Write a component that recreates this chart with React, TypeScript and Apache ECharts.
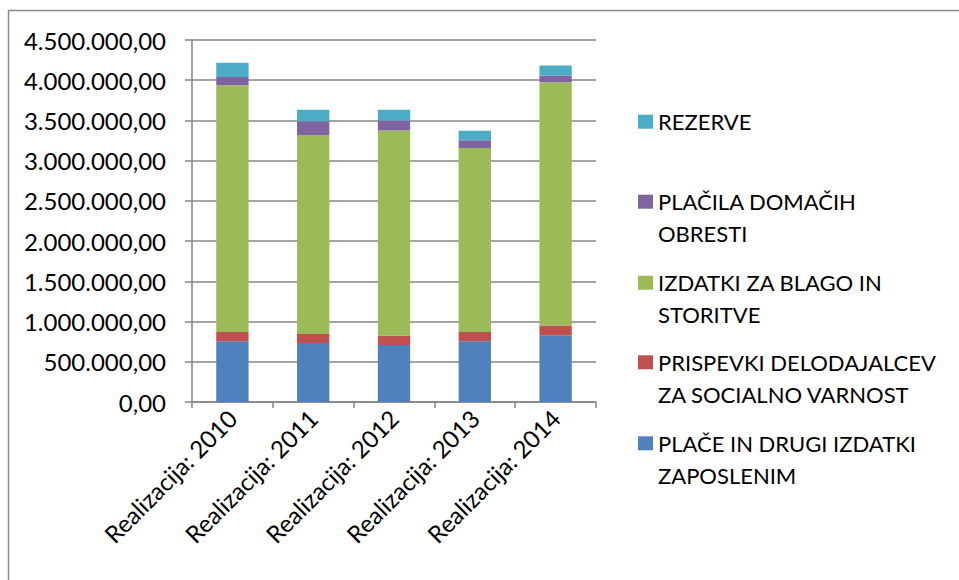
import React, { useEffect, useRef } from "react";
import * as echarts from "echarts";

const categories = ["Realizacija: 2010", "Realizacija: 2011", "Realizacija: 2012", "Realizacija: 2013", "Realizacija: 2014"];
const place = [754000, 733000, 708000, 754000, 829000];
const prispevki = [116000, 112000, 117000, 116000, 121000];
const izdatki = [3068000, 2471000, 2550000, 2289000, 3025000];
const obresti = [103000, 175000, 125000, 95000, 84000];
const rezerve = [175000, 143000, 134000, 117000, 125000];
const yTicks = { min: 0, max: 4500000, interval: 500000 };

const seriesDefs = [
  { name: "PLAČE IN DRUGI IZDATKI ZAPOSLENIM", lines: ["PLAČE IN DRUGI IZDATKI", "ZAPOSLENIM"], data: place, color: "#4F81BD" },
  { name: "PRISPEVKI DELODAJALCEV ZA SOCIALNO VARNOST", lines: ["PRISPEVKI DELODAJALCEV", "ZA SOCIALNO VARNOST"], data: prispevki, color: "#C0504D" },
  { name: "IZDATKI ZA BLAGO IN STORITVE", lines: ["IZDATKI ZA BLAGO IN", "STORITVE"], data: izdatki, color: "#9BBB59" },
  { name: "PLAČILA DOMAČIH OBRESTI", lines: ["PLAČILA DOMAČIH", "OBRESTI"], data: obresti, color: "#8064A2" },
  { name: "REZERVE", lines: ["REZERVE"], data: rezerve, color: "#4BACC6" },
];

const FONT = "Lato";
const FS = 22;
const AXFS = 24;

function fmt(v: number): string {
  const s = Math.round(v).toString().replace(/\B(?=(\d{3})+(?!\d))/g, ".");
  return s + ",00";
}

export default function App() {
  const ref = useRef<HTMLDivElement>(null);
  useEffect(() => {
    if (!ref.current) return;
    const chart = echarts.init(ref.current, null, { renderer: "svg" });
    const iconCenters: Record<string, number> = {
      "REZERVE": 121.7,
      "PLAČILA DOMAČIH OBRESTI": 201.7,
      "IZDATKI ZA BLAGO IN STORITVE": 282.7,
      "PRISPEVKI DELODAJALCEV ZA SOCIALNO VARNOST": 362.3,
      "PLAČE IN DRUGI IZDATKI ZAPOSLENIM": 443.3,
    };
    const LH = 32;
    const ICON_LEFT = 638;
    const ICON_W = 15;
    const ICON_H = 14;
    const legends = seriesDefs.map((s) => {
      const c = iconCenters[s.name];
      return {
        orient: "vertical",
        left: ICON_LEFT,
        top: c - LH / 2,
        padding: 0,
        itemWidth: ICON_W,
        itemHeight: ICON_H,
        icon: "rect",
        selectedMode: false,
        data: [s.name],
        formatter: () => s.lines[0],
        textStyle: {
          fontFamily: FONT,
          fontSize: FS,
          color: "#000",
          lineHeight: LH,
        },
      };
    });
    const secondLines = seriesDefs
      .filter((s) => s.lines.length > 1)
      .map((s) => ({
        type: "text",
        x: ICON_LEFT + ICON_W + 5,
        y: iconCenters[s.name] + LH,
        silent: true,
        style: {
          text: s.lines[1],
          fontFamily: FONT,
          fontSize: FS,
          fill: "#000",
          verticalAlign: "middle",
          align: "left",
        },
      }));
    chart.setOption({
      animation: false,
      backgroundColor: "#fff",
      graphic: [
        {
          type: "rect",
          shape: { x: 8.5, y: 10.5, width: 1000, height: 1000 },
          style: { fill: "none", stroke: "#8c8c8c", lineWidth: 1.5 },
          silent: true,
        },
        ...secondLines,
      ],
      legend: legends,
      grid: { left: 192, right: 363, top: 40, bottom: 178, containLabel: false },
      xAxis: {
        type: "category",
        data: categories,
        axisLine: { lineStyle: { color: "#868686", width: 1.5 } },
        axisTick: { show: true, alignWithLabel: false, length: 6, lineStyle: { color: "#868686", width: 1.5 } },
        axisLabel: {
          rotate: 45,
          interval: 0,
          margin: 12,
          fontFamily: FONT,
          fontSize: AXFS,
          color: "#000",
        },
      },
      yAxis: {
        type: "value",
        min: yTicks.min,
        max: yTicks.max,
        interval: yTicks.interval,
        axisLine: { show: true, lineStyle: { color: "#868686", width: 1.5 } },
        axisTick: { show: true, inside: false, length: 7, lineStyle: { color: "#868686", width: 1.5 } },
        splitLine: { show: true, lineStyle: { color: "#868686", width: 1.5 } },
        axisLabel: {
          margin: 26,
          fontFamily: FONT,
          fontSize: AXFS,
          color: "#000",
          formatter: (v: number) => fmt(v),
        },
      },
      series: seriesDefs.map((s) => ({
        name: s.name,
        type: "bar",
        stack: "total",
        barWidth: "40%",
        data: s.data,
        itemStyle: { color: s.color },
      })),
    });
    return () => chart.dispose();
  }, []);
  return (
    <div
      ref={ref}
      style={{ position: "absolute", left: 0, top: 0, width: 959, height: 580 }}
    />
  );
}
